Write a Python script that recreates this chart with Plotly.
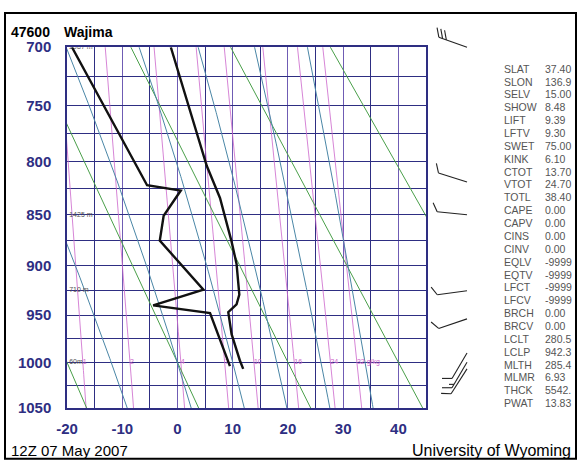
import numpy as np
import plotly.graph_objects as go

# ---------------- data ----------------
temp_p = [1007, 998, 970, 947, 939, 929, 898, 876, 834, 804, 700]
temp_c = [11.9, 11.3, 9.8, 9.2, 10.7, 11.2, 10.7, 9.8, 7.7, 5.3, -1.2]

dewp_p = [1004, 948, 940, 924, 875, 851, 827, 822, 700]
dewp_c = [9.5, 5.9, -4.4, 4.7, -3.2, -2.5, 0.6, -5.5, -19.1]

wind_p = [700, 819, 850, 925, 954, 990, 1000, 1007]
wind_dir = [290, 288, 276, 262, 251, 210, 210, 212]
wind_kt = [30, 10, 10, 10, 10, 10, 15, 10]

height_p = [700, 850, 925, 1000]
height_txt = ["2987 m", "1425 m", "710 m", "60m"]

dry_theta_c = [-20, 0, 20, 40, 60]
moist_thetaw_c = [-12, 0, 10, 18, 26, 34]
mixr_gkg = [1, 2, 4, 7, 10, 16, 24, 32]
mixr_txt = ["1", "2", "4", "7", "10", "16", "24", "32 g/kg"]

pres_ticks = [700, 725, 750, 775, 800, 825, 850, 875, 900, 925, 950, 975, 1000, 1025, 1050]
temp_ticks = [-20, -10, 0, 10, 20, 30, 40]

idx_names = ["SLAT", "SLON", "SELV", "SHOW", "LIFT", "LFTV", "SWET", "KINK", "CTOT",
             "VTOT", "TOTL", "CAPE", "CAPV", "CINS", "CINV", "EQLV", "EQTV", "LFCT",
             "LFCV", "BRCH", "BRCV", "LCLT", "LCLP", "MLTH", "MLMR", "THCK", "PWAT"]
idx_vals = ["37.40", "136.9", "15.00", "8.48", "9.39", "9.30", "75.00", "6.10", "13.70",
            "24.70", "38.40", "0.00", "0.00", "0.00", "0.00", "-9999", "-9999", "-9999",
            "-9999", "0.00", "0.00", "280.5", "942.3", "285.4", "6.93", "5542.", "13.83"]

# ---------------- geometry / style ----------------
W, H = 577, 463
ML, MR, MT, MB = 67, 5, 5, 55
PLOT_W = W - ML - MR
PLOT_H = H - MT - MB
MAIN_LEFT, MAIN_RIGHT = 67, 426
MAIN_TOP, MAIN_BOT = 39, 408
KAPPA = 0.286
P_TOP, P_BOT = 700, 1050
T_MIN, T_MAX = -20, 45

NAVY = "#2e2e82"
PURP = "#6f5cb4"
GREEN = "#4a9f4a"
TEAL = "#4a86a6"
MAGENTA = "#cc66cc"


def yk(p):
    return np.power(np.asarray(p, dtype=float), KAPPA)


YT, YB = float(yk(P_TOP)), float(yk(P_BOT))


def px2paper(px):
    return (px - ML) / PLOT_W


def py2paper(py):
    return (H - MB - py) / PLOT_H


def py_of_p(p):
    return MAIN_TOP + (float(yk(p)) - YT) / (YB - YT) * (MAIN_BOT - MAIN_TOP)


def yval_of_py(py):
    return YT + (py - MAIN_TOP) / (MAIN_BOT - MAIN_TOP) * (YB - YT)


def es_hpa(tc):
    return 6.112 * np.exp(17.67 * tc / (tc + 243.5))


def td_from_w(w, p):
    e = w * p / (622.0 + w)
    a = np.log(e / 6.112)
    return 243.5 * a / (17.67 - a)


Rd, CP, LV, EPS = 287.04, 1005.7, 2.501e6, 0.622


def dTdp(p, T):
    tc = T - 273.15
    es = es_hpa(tc)
    rs = EPS * es / (p - es)
    num = Rd * T + LV * rs
    den = CP + LV * LV * rs * EPS / (Rd * T * T)
    return num / den / p


def moist_line(thw):
    out_p, out_t = [1000.0], [thw + 273.15]
    for target, step in ((690.0, -2.0), (1055.0, 2.0)):
        p, T = 1000.0, thw + 273.15
        ps, ts = [], []
        while (step < 0 and p > target) or (step > 0 and p < target):
            k1 = dTdp(p, T)
            k2 = dTdp(p + step / 2, T + step / 2 * k1)
            k3 = dTdp(p + step / 2, T + step / 2 * k2)
            k4 = dTdp(p + step, T + step * k3)
            T += step / 6 * (k1 + 2 * k2 + 2 * k3 + k4)
            p += step
            ps.append(p)
            ts.append(T)
        if step < 0:
            out_p = ps[::-1] + out_p
            out_t = ts[::-1] + out_t
        else:
            out_p = out_p + ps
            out_t = out_t + ts
    return np.array(out_p), np.array(out_t) - 273.15


fig = go.Figure()

levels = np.linspace(690, 1055, 80)

for w in mixr_gkg:
    fig.add_trace(go.Scatter(x=td_from_w(w, levels), y=yk(levels), mode="lines",
                             line=dict(color=MAGENTA, width=0.8), hoverinfo="skip"))
for th in dry_theta_c:
    t = (th + 273.15) * np.power(levels / 1000.0, KAPPA) - 273.15
    fig.add_trace(go.Scatter(x=t, y=yk(levels), mode="lines",
                             line=dict(color=GREEN, width=1), hoverinfo="skip"))
for thw in moist_thetaw_c:
    mp, mt = moist_line(thw)
    fig.add_trace(go.Scatter(x=mt, y=yk(mp), mode="lines",
                             line=dict(color=TEAL, width=1), hoverinfo="skip"))

fig.add_trace(go.Scatter(x=[td_from_w(w, 1000.0) for w in mixr_gkg],
                         y=[float(yk(1000))] * len(mixr_gkg), mode="text",
                         text=mixr_txt, textposition="middle right",
                         textfont=dict(size=7, color=MAGENTA, family="Liberation Sans"),
                         hoverinfo="skip"))

fig.add_trace(go.Scatter(x=[T_MIN + 0.4] * len(height_p), y=yk(height_p), mode="text",
                         text=height_txt, textposition="middle right",
                         textfont=dict(size=7, color="#555555", family="Liberation Sans"),
                         hoverinfo="skip"))

fig.add_trace(go.Scatter(x=dewp_c, y=yk(dewp_p), mode="lines",
                         line=dict(color="#111111", width=2.4), hoverinfo="skip"))
fig.add_trace(go.Scatter(x=temp_c, y=yk(temp_p), mode="lines",
                         line=dict(color="#111111", width=2.4), hoverinfo="skip"))

# wind barbs
BASE_X = 467.0
STAFF = 30.0
bx, by = [], []
for p, d, s in zip(wind_p, wind_dir, wind_kt):
    x0, y0 = BASE_X, py_of_p(p)
    rad = np.deg2rad(d)
    ux, uy = np.sin(rad), -np.cos(rad)
    tx, ty = x0 + STAFF * ux, y0 + STAFF * uy
    bx += [x0, tx, None]
    by += [y0, ty, None]
    px_, py_ = -uy, ux
    a = np.deg2rad(30)
    fx, fy = np.cos(a) * px_ + np.sin(a) * ux, np.cos(a) * py_ + np.sin(a) * uy
    n_full, n_half = int(s // 10), int((s % 10) // 5)
    pos = 0.0
    for i in range(n_full):
        sx, sy = tx - pos * ux, ty - pos * uy
        bx += [sx, sx + 10 * fx, None]
        by += [sy, sy + 10 * fy, None]
        pos += 4.0
    for i in range(n_half):
        sx, sy = tx - pos * ux, ty - pos * uy
        bx += [sx, sx + 5 * fx, None]
        by += [sy, sy + 5 * fy, None]
fig.add_trace(go.Scatter(x=bx, y=[None if v is None else yval_of_py(v) for v in by],
                         mode="lines", line=dict(color="#222222", width=1.1),
                         xaxis="x2", yaxis="y2", hoverinfo="skip"))

tick_font = dict(family="Liberation Sans", size=15, color=NAVY, weight="bold")

main_xdom = [px2paper(MAIN_LEFT), px2paper(MAIN_RIGHT)]
main_ydom = [py2paper(MAIN_BOT), py2paper(MAIN_TOP)]

fig.update_layout(
    width=W, height=H,
    margin=dict(l=ML, r=MR, t=MT, b=MB),
    paper_bgcolor="white", plot_bgcolor="white",
    showlegend=False,
    xaxis=dict(domain=main_xdom, range=[T_MIN, T_MAX],
               tickmode="array", tickvals=temp_ticks,
               ticktext=[str(v) for v in temp_ticks],
               tickfont=tick_font, ticks="", ticklabelstandoff=6,
               showgrid=True, gridcolor=PURP, gridwidth=1.3,
               minor=dict(dtick=5, tick0=0, showgrid=True, gridcolor=NAVY, gridwidth=1.3),
               showline=True, mirror=True, linecolor=NAVY, linewidth=1.5,
               zeroline=False, anchor="y"),
    yaxis=dict(domain=main_ydom, range=[YB, YT], tickmode="array",
               tickvals=yk(pres_ticks).tolist(),
               ticktext=[str(p) if p % 50 == 0 else "" for p in pres_ticks],
               tickfont=tick_font, ticks="", ticklabelstandoff=11,
               showgrid=True, gridcolor=NAVY, gridwidth=1.3,
               showline=True, mirror=True, linecolor=NAVY, linewidth=1.5,
               zeroline=False, anchor="x"),
    xaxis2=dict(domain=[px2paper(430), px2paper(480)], range=[430, 480],
                visible=False, anchor="y2"),
    yaxis2=dict(domain=[0, 1], range=[yval_of_py(H - MB), yval_of_py(MT)],
                visible=False, anchor="x2"),
)

ann = []
ann.append(dict(text="47600", x=px2paper(9), y=py2paper(23), xref="paper", yref="paper",
                xanchor="left", yanchor="middle", showarrow=False,
                font=dict(family="Liberation Sans", size=14, color="black", weight="bold")))
ann.append(dict(text="Wajima", x=px2paper(62), y=py2paper(23), xref="paper", yref="paper",
                xanchor="left", yanchor="middle", showarrow=False,
                font=dict(family="Liberation Sans", size=14, color="black", weight="bold")))
ann.append(dict(text="12Z 07 May 2007", x=px2paper(9), y=py2paper(451), xref="paper",
                yref="paper", xanchor="left", yanchor="middle", showarrow=False,
                font=dict(family="Liberation Sans", size=15, color="black")))
ann.append(dict(text="University of Wyoming", x=px2paper(573), y=py2paper(451), xref="paper",
                yref="paper", xanchor="right", yanchor="middle", showarrow=False,
                font=dict(family="Liberation Sans", size=16, color="black")))
for i, (nm, vl) in enumerate(zip(idx_names, idx_vals)):
    yy = 61 + i * (403 - 61) / (len(idx_names) - 1)
    ann.append(dict(text=nm, x=px2paper(502), y=py2paper(yy), xref="paper", yref="paper",
                    xanchor="left", yanchor="middle", showarrow=False,
                    font=dict(family="Liberation Sans", size=10.5, color="#555555")))
    ann.append(dict(text=vl, x=px2paper(543), y=py2paper(yy), xref="paper", yref="paper",
                    xanchor="left", yanchor="middle", showarrow=False,
                    font=dict(family="Liberation Sans", size=10.5, color="#555555")))
fig.update_layout(annotations=ann)

fig.add_shape(type="rect", xref="paper", yref="paper",
              x0=px2paper(5), x1=px2paper(576), y0=py2paper(460), y1=py2paper(4),
              line=dict(color="black", width=2), layer="above")

fig.write_html("out.html",
               config={"displayModeBar": False},
               post_script="document.body.style.margin='0px';"
                           "document.body.style.padding='0px';"
                           "document.body.style.overflow='hidden';")
